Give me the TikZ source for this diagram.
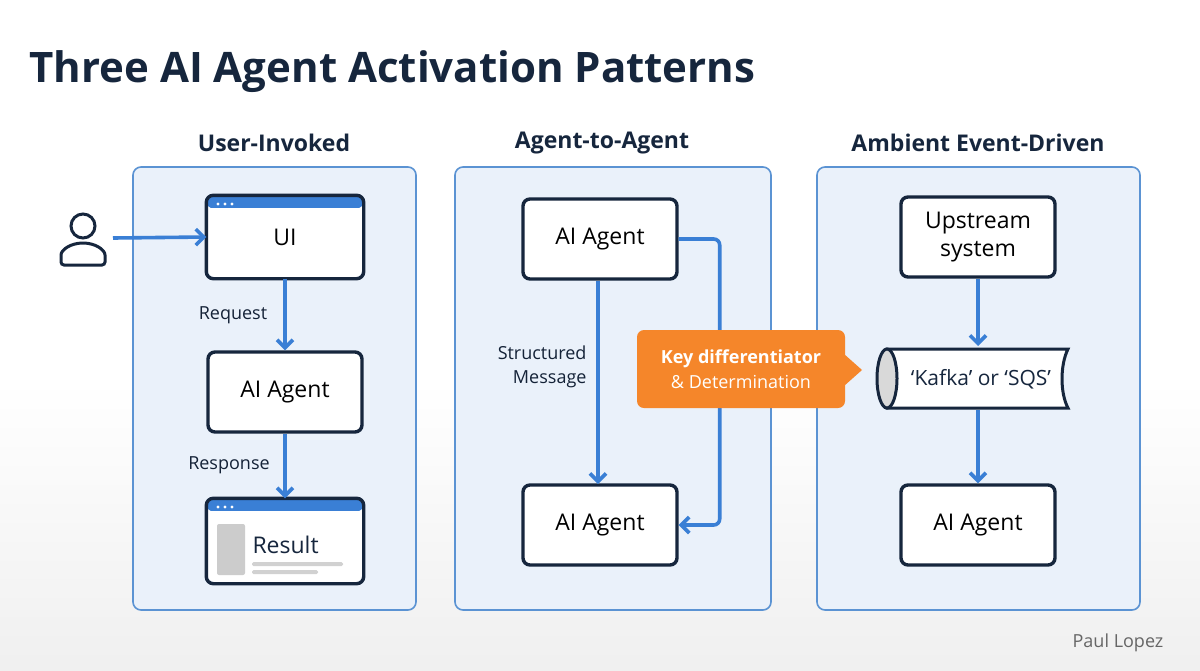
\documentclass[tikz,border=0pt]{standalone}
\usepackage{fontspec}
\setmainfont{Open Sans}
\usetikzlibrary{arrows.meta}
\definecolor{navy}{HTML}{16263D}
\definecolor{pblue}{HTML}{5B93D3}
\definecolor{pfill}{HTML}{EAF1FA}
\definecolor{arr}{HTML}{3A7FD5}
\definecolor{bar}{HTML}{3A7FD5}
\definecolor{orng}{HTML}{F5862A}
\begin{document}
\begin{tikzpicture}[x=1pt,y=-1pt,
  panel/.style={draw=pblue,fill=pfill,line width=1.6pt,rounded corners=8pt},
  box/.style={draw=navy,fill=white,line width=3.4pt,rounded corners=7pt,minimum width=154pt,minimum height=80pt,font=\fontsize{23}{28}\selectfont,align=center,inner sep=0pt},
  con/.style={draw=arr,line width=3.6pt,-{Straight Barb[length=8pt,width=16pt,line width=3.6pt]}},
  lab/.style={font=\fontsize{18}{24}\selectfont,text=navy!90!black},
  head/.style={font=\fontsize{23}{26}\selectfont\bfseries,text=navy}]
\useasboundingbox (0,0) rectangle (1200,670);
\shade[top color=white,bottom color=black!6] (0,380) rectangle (1200,670);
\fill[white] (0,0) rectangle (1200,380);
\node[anchor=base west,font=\fontsize{42}{48}\selectfont\bfseries,text=navy] (title) at (26,82) {Three AI Agent Activation Patterns};
% panels
\draw[panel] (133,167) rectangle (416,610);
\draw[panel] (455,167) rectangle (771,610);
\draw[panel] (817,167) rectangle (1140,610);
\node[head] (h1) at (274,143) {User-Invoked};
\node[head] (h2) at (602,143) {Agent-to-Agent};
\node[head] (h3) at (978,143) {Ambient Event-Driven};
% panel 1
\node[box,draw=none] (ui) at (285,237) {UI};
\begin{scope}
\clip[rounded corners=7pt] (ui.north west) rectangle ([yshift=-13pt]ui.north east);
\fill[bar] (ui.north west) rectangle ([yshift=-13pt]ui.north east);
\end{scope}
\draw[navy,line width=3.4pt,rounded corners=7pt] (ui.north west) rectangle (ui.south east);
\foreach \i in {0,1,2}\fill[white] (218+\i*7,204) circle (1.7pt);
\node[box] (ag1) at (285,392) {AI Agent};
\node[box,draw=none,minimum height=82pt] (res) at (285,541) {};
\begin{scope}
\clip[rounded corners=7pt] (res.north west) rectangle ([yshift=-13pt]res.north east);
\fill[bar] (res.north west) rectangle ([yshift=-13pt]res.north east);
\end{scope}
\draw[navy,line width=3.4pt,rounded corners=7pt] (res.north west) rectangle (res.south east);
\foreach \i in {0,1,2}\fill[white] (218+\i*7,507) circle (1.7pt);
\fill[black!20,rounded corners=2pt] (217,524) rectangle (245,575);
\node[anchor=west,font=\fontsize{23}{28}\selectfont,text=navy] (rt) at (249,545) {Result};
\fill[black!18,rounded corners=1.5pt] (252,562) rectangle (343,566);
\fill[black!18,rounded corners=1.5pt] (252,570) rectangle (318,574);
% person
\draw[navy,line width=3pt] (83,226) circle (12pt);
\draw[navy,line width=3pt,rounded corners=3pt] (61,265) -- (61,258) arc[start angle=180,end angle=0,x radius=22pt,y radius=15pt] -- (105,265) -- cycle;
\coordinate (pr) at (113,238);
\draw[con] (pr) -- (ui.west);
\draw[con] (ui.south) -- (ag1.north);
\draw[con] (ag1.south) -- (res.north);
\node[lab] (l1) at (233,315) {Request};
\node[lab] (l2) at (229,465) {Response};
% panel 2
\node[box] (a2) at (600,239) {AI Agent};
\node[box] (b2) at (600,525) {AI Agent};
\draw[con] (598,281) -- (598,484);
\draw[con,rounded corners=6pt] (a2.east) -- ++(41,0) |- (b2.east);
\node[lab,align=right,anchor=east] (sm) at (590,367) {Structured\\Message};
\node[draw=none,fill=orng,rounded corners=7pt,minimum width=208pt,minimum height=78pt,align=center,text=white,font=\fontsize{18}{25}\selectfont] (kd) at (741,369) {\textbf{Key differentiator}\\\& Determination};
\fill[orng] (844,354) -- (862,370) -- (844,386) -- cycle;
% panel 3
\node[box] (up) at (978,237) {Upstream\\system};
\node[box] (a3) at (978,525) {AI Agent};
\draw[navy,fill=white,line width=3pt] (887,349) -- (1068,349) .. controls (1060,365) and (1060,393) .. (1068,408) -- (887,408) -- cycle;
\draw[navy,fill=black!15,line width=3pt] (887,378.5) ellipse (10pt and 29.5pt);
\node[font=\fontsize{21}{25}\selectfont,text=navy] (kf) at (981,379) {‘Kafka’ or ‘SQS’};
\draw[con] (up.south) -- (978,346);
\draw[con] (978,410) -- (a3.north);
\node[font=\fontsize{18}{22}\selectfont,text=black!60] (pl) at (1118,643) {Paul Lopez};
\end{tikzpicture}
\end{document}
